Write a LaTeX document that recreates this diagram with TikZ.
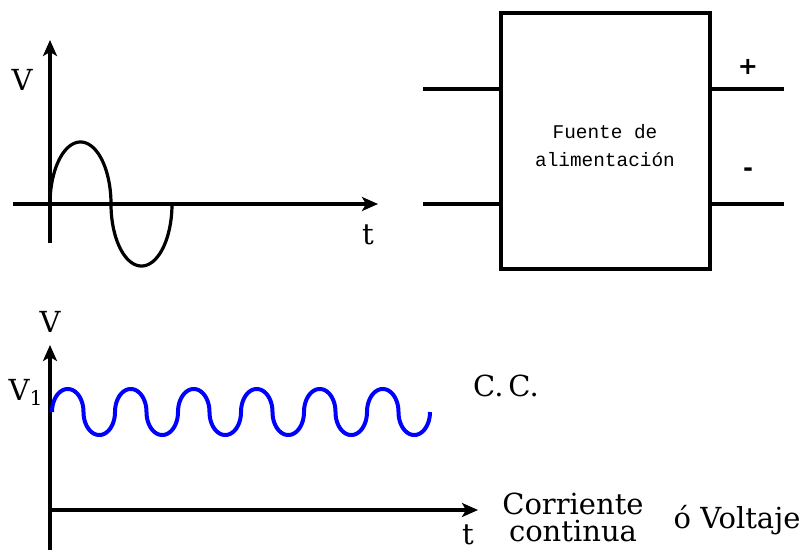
\documentclass[tikz,border=0pt]{standalone}
\usepackage{fontspec}
\setmainfont{DejaVu Serif}
\newfontfamily\monofont{Liberation Mono}
\newfontfamily\signfont{DejaVu Sans}
\usetikzlibrary{arrows.meta,positioning}

\begin{document}
\begin{tikzpicture}[
    x=0.5pt, y=-0.5pt,
    axis/.style={line width=2pt, -{Stealth[length=8pt,width=7pt,inset=2pt]}},
    wave/.style={line width=1.6pt},
    wire/.style={line width=1.6pt},
    lbl/.style={font=\fontsize{14.5}{13.5}\selectfont, inner sep=0pt},
    sign/.style={font=\signfont\bfseries\fontsize{12}{13}\selectfont, inner sep=0pt},
    fuente/.style={rectangle, draw, line width=1.6pt, minimum width=104.5pt, minimum height=128pt, inner sep=0pt},
    boxtext/.style={align=center, inner sep=0pt, font=\monofont\fontsize{9.7}{14}\selectfont}
]
\useasboundingbox (0,0) rectangle (810,552);

% Alternating signal
\coordinate (y1bot) at (50,243);
\coordinate (y1top) at (50,40);
\coordinate (x1left) at (13,204);
\coordinate (x1right) at (378,204);
\draw[axis] (y1bot) -- (y1top);
\draw[axis] (x1left) -- (x1right);
\node[lbl] (v1) at (22,80) {V};
\node[lbl] (t1) at (368,235) {t};
\draw[wave] plot[domain=0:360, samples=200]
  ({50+30.5*(2*floor(\x/180)+1-cos(mod(\x,180)))},{204-62*sin(\x)});

% Power supply block
\node[fuente] (fuente) at (605.5,141) {};
\node[boxtext] (fuentetxt) at (605,146) {Fuente de\\alimentación};
\coordinate (inA) at (423,89);
\coordinate (inB) at (423,204);
\coordinate (outA) at (784,89);
\coordinate (outB) at (784,204);
\draw[wire] (inA) -- (inA -| fuente.west);
\draw[wire] (inB) -- (inB -| fuente.west);
\draw[wire] (fuente.east |- outA) -- (outA);
\draw[wire] (fuente.east |- outB) -- (outB);
\node[sign] (plus) at (748,67) {+};
\node[sign] (minus) at (748,172) {-};

% Direct current signal
\coordinate (y2bot) at (50,550);
\coordinate (y2top) at (50,345);
\coordinate (x2left) at (50,510);
\coordinate (x2right) at (478,510);
\draw[axis] (y2bot) -- (y2top);
\draw[axis] (x2left) -- (x2right);
\draw[wave, blue, line width=2pt] plot[domain=0:2160, samples=600]
  ({52+15.75*(2*floor(\x/180)+1-cos(mod(\x,180)))},{412-23*sin(\x)});
\node[lbl] (v2) at (50,322) {V};
\node[lbl] (v2one) at (26,392) {V\textsubscript{1}};
\node[lbl] (t2) at (468,535) {t};
\node[lbl] (cc) at (506,386) {C.\,C.};
\node[lbl, align=center] (corriente) at (573,517) {Corriente\\continua};
\node[lbl] (voltaje) at (737,520) {ó Voltaje};

\end{tikzpicture}
\end{document}
